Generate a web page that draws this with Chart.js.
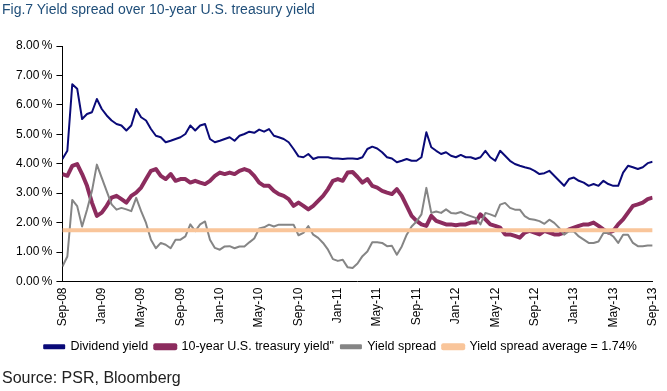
<!DOCTYPE html>
<html>
<head>
<meta charset="utf-8">
<script src="https://cdn.jsdelivr.net/npm/chart.js@4/dist/chart.umd.min.js"></script>
<style>
  html, body { margin: 0; padding: 0; background: #fff; }
  #wrap { position: relative; width: 667px; height: 391px; overflow: hidden; font-family: "Liberation Sans", Arial, sans-serif; }
  #title { position: absolute; left: 2px; top: 1px; font-size: 14px; color: #1f4e79; }
  #source { position: absolute; left: 2px; top: 369px; font-size: 16px; color: #222; }
  #box { position: absolute; left: 0; top: 0; width: 673px; height: 391px; }
</style>
</head>
<body>
<div id="wrap">
  <div id="box"><canvas id="spreadChart"></canvas></div>
  <div id="title">Fig.7 Yield spread over 10-year U.S. treasury yield</div>
  <div id="source">Source: PSR, Bloomberg</div>
</div>
<script>
// semi-monthly readings, Sep-08 .. Sep-13
const tickLabels = ["Sep-08", "Jan-09", "May-09", "Sep-09", "Jan-10", "May-10", "Sep-10", "Jan-11",
    "May-11", "Sep-11", "Jan-12", "May-12", "Sep-12", "Jan-13", "May-13", "Sep-13"];

const dividendYield = [
    4.16, 4.44, 6.70, 6.55, 5.52, 5.69, 5.75, 6.20, 5.86, 5.64,
    5.47, 5.35, 5.30, 5.13, 5.30, 5.86, 5.58, 5.47, 5.18, 4.95,
    4.90, 4.73, 4.78, 4.84, 4.90, 5.01, 5.30, 5.13, 5.30, 5.35,
    4.84, 4.73, 4.78, 4.84, 4.90, 4.78, 4.95, 5.01, 5.09, 5.05,
    5.16, 5.09, 5.18, 4.95, 4.90, 4.84, 4.73, 4.50, 4.25, 4.22,
    4.33, 4.16, 4.22, 4.22, 4.22, 4.18, 4.18, 4.16, 4.18, 4.18,
    4.16, 4.22, 4.50, 4.58, 4.52, 4.39, 4.22, 4.18, 4.05, 4.10,
    4.16, 4.10, 4.10, 4.22, 5.07, 4.56, 4.44, 4.33, 4.39, 4.27,
    4.22, 4.30, 4.22, 4.22, 4.16, 4.22, 4.44, 4.22, 4.10, 4.44,
    4.27, 4.10, 3.99, 3.93, 3.88, 3.84, 3.76, 3.65, 3.68, 3.76,
    3.59, 3.42, 3.25, 3.48, 3.53, 3.42, 3.36, 3.25, 3.31, 3.25,
    3.42, 3.31, 3.25, 3.25, 3.70, 3.93, 3.88, 3.82, 3.88, 4.02,
    4.07
];

const treasuryYield = [
    3.65, 3.59, 3.93, 3.99, 3.65, 3.25, 2.68, 2.23, 2.34, 2.57,
    2.85, 2.91, 2.80, 2.68, 2.91, 3.02, 3.19, 3.48, 3.76, 3.82,
    3.59, 3.48, 3.65, 3.42, 3.48, 3.48, 3.36, 3.42, 3.36, 3.31,
    3.42, 3.59, 3.70, 3.65, 3.70, 3.65, 3.76, 3.82, 3.76, 3.59,
    3.36, 3.25, 3.25, 3.08, 2.97, 2.91, 2.80, 2.57, 2.68, 2.57,
    2.45, 2.57, 2.74, 2.91, 3.14, 3.42, 3.48, 3.42, 3.70, 3.72,
    3.55, 3.36, 3.48, 3.25, 3.19, 3.08, 3.02, 2.97, 3.14, 2.91,
    2.57, 2.23, 2.06, 1.94, 1.89, 2.23, 2.06, 2.00, 1.94, 1.94,
    1.91, 1.94, 1.94, 2.00, 2.00, 2.28, 2.11, 1.94, 1.89, 1.83,
    1.60, 1.60, 1.55, 1.49, 1.66, 1.72, 1.66, 1.60, 1.72, 1.66,
    1.60, 1.60, 1.66, 1.77, 1.83, 1.89, 1.94, 1.94, 2.00, 1.89,
    1.77, 1.66, 1.72, 1.94, 2.11, 2.34, 2.57, 2.62, 2.68, 2.80,
    2.85
];

const yieldSpread = [
    0.51, 0.85, 2.77, 2.56, 1.87, 2.44, 3.07, 3.97, 3.52, 3.07,
    2.62, 2.44, 2.50, 2.45, 2.39, 2.84, 2.39, 1.99, 1.42, 1.13,
    1.31, 1.25, 1.13, 1.42, 1.42, 1.53, 1.94, 1.71, 1.94, 2.04,
    1.42, 1.14, 1.08, 1.19, 1.20, 1.13, 1.19, 1.19, 1.33, 1.46,
    1.80, 1.84, 1.93, 1.87, 1.93, 1.93, 1.93, 1.93, 1.57, 1.65,
    1.88, 1.59, 1.48, 1.31, 1.08, 0.76, 0.70, 0.74, 0.48, 0.46,
    0.61, 0.86, 1.02, 1.33, 1.33, 1.31, 1.20, 1.21, 0.91, 1.19,
    1.59, 1.87, 2.04, 2.28, 3.18, 2.33, 2.38, 2.33, 2.45, 2.33,
    2.31, 2.36, 2.28, 2.22, 2.16, 1.94, 2.33, 2.28, 2.21, 2.61,
    2.67, 2.50, 2.44, 2.44, 2.22, 2.12, 2.10, 2.05, 1.96, 2.10,
    1.99, 1.82, 1.59, 1.71, 1.70, 1.53, 1.42, 1.31, 1.31, 1.36,
    1.65, 1.65, 1.53, 1.31, 1.59, 1.59, 1.31, 1.20, 1.20, 1.22,
    1.22
];

const spreadAverage = 1.74;
const lastMonth = 60;

// each reading is half a month apart
const toPoints = arr => arr.map((v, i) => ({ x: i / 2, y: v }));

new Chart(document.getElementById("spreadChart"), {
    type: "line",
    data: {
        datasets: [
            {
                label: "Dividend yield",
                data: toPoints(dividendYield),
                borderColor: "#0a0a78",
                backgroundColor: "#0a0a78",
                borderWidth: 2,
                order: 4
            },
            {
                label: "10-year U.S. treasury yield\"",
                data: toPoints(treasuryYield),
                borderColor: "#8c2c5e",
                backgroundColor: "#8c2c5e",
                borderWidth: 4,
                order: 3
            },
            {
                label: "Yield spread",
                data: toPoints(yieldSpread),
                borderColor: "#858585",
                backgroundColor: "#858585",
                borderWidth: 2,
                order: 2
            },
            {
                label: "Yield spread average = 1.74%",
                data: [{ x: 0, y: spreadAverage }, { x: lastMonth, y: spreadAverage }],
                borderColor: "#f9c59a",
                backgroundColor: "#f9c59a",
                borderWidth: 4,
                order: 1
            }
        ]
    },
    options: {
        responsive: true,
        maintainAspectRatio: false,
        animation: false,
        elements: {
            point: { radius: 0 },
            line: { tension: 0, borderJoinStyle: "round" }
        },
        layout: { padding: { left: 12, right: 4, top: 46, bottom: 28 } },
        plugins: {
            tooltip: { enabled: false },
            legend: {
                position: "bottom",
                labels: {
                    color: "#000",
                    font: { family: "Liberation Sans", size: 12.5 },
                    boxWidth: 20,
                    boxHeight: 3,
                    padding: 7,
                    sort: (a, b) => a.datasetIndex - b.datasetIndex
                }
            }
        },
        scales: {
            x: {
                type: "linear",
                min: 0,
                max: lastMonth,
                grid: { drawOnChartArea: false, drawTicks: false },
                border: { color: "#000", width: 1 },
                ticks: {
                    stepSize: 4,
                    autoSkip: false,
                    maxRotation: 90,
                    minRotation: 90,
                    padding: 6,
                    color: "#000",
                    font: { family: "Liberation Sans", size: 12 },
                    callback: v => tickLabels[v / 4] ?? ""
                }
            },
            y: {
                min: 0,
                max: 8,
                grid: { drawOnChartArea: false, drawTicks: true, tickLength: 6, color: "#000" },
                border: { color: "#000", width: 1 },
                ticks: {
                    stepSize: 1,
                    padding: 4,
                    color: "#000",
                    font: { family: "Liberation Sans", size: 12 },
                    callback: v => v.toFixed(2) + "\u2009%"
                }
            }
        }
    }
});
</script>
</body>
</html>
